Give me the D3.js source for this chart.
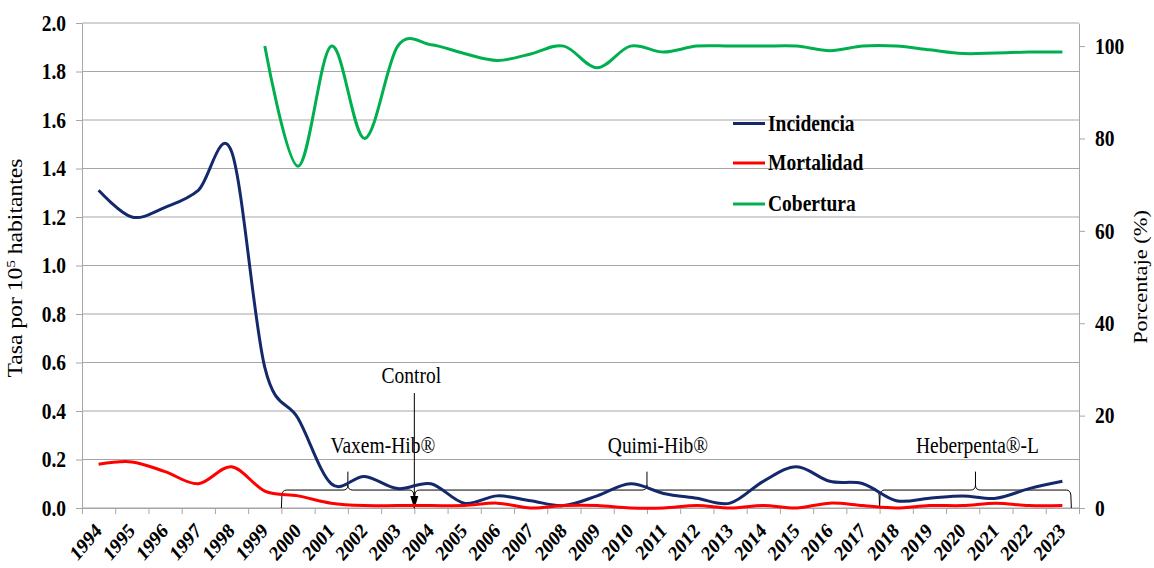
<!DOCTYPE html>
<html>
<head>
<meta charset="utf-8">
<script src="https://cdn.jsdelivr.net/npm/d3@7/dist/d3.min.js"></script>
<style>
  body { margin: 0; background: #fff; }
  svg { display: block; font-family: "Liberation Serif", "Times New Roman", serif; }
</style>
</head>
<body>
<svg id="chart"></svg>
<script>
// data
var years = ['1994','1995','1996','1997','1998','1999','2000','2001','2002','2003',
             '2004','2005','2006','2007','2008','2009','2010','2011','2012','2013',
             '2014','2015','2016','2017','2018','2019','2020','2021','2022','2023'];

var incidencia = [1.31, 1.20, 1.24, 1.31, 1.47, 0.58, 0.37, 0.10, 0.13, 0.08,
                  0.10, 0.02, 0.05, 0.03, 0.01, 0.05, 0.10, 0.06, 0.04, 0.02,
                  0.11, 0.17, 0.11, 0.10, 0.03, 0.04, 0.05, 0.04, 0.08, 0.11];

var mortalidad = [0.18, 0.19, 0.15, 0.10, 0.17, 0.07, 0.05, 0.02, 0.01, 0.01,
                  0.01, 0.01, 0.02, 0.00, 0.01, 0.01, 0.00, 0.00, 0.01, 0.00,
                  0.01, 0.00, 0.02, 0.01, 0.00, 0.01, 0.01, 0.02, 0.01, 0.01];

// coverage (%) only from 1999
var cobertura = [null, null, null, null, null, 100, 74, 100, 80, 100,
                 100.3, 98.4, 96.9, 98.3, 100, 95.3, 100, 98.7, 100, 100,
                 100, 100, 99, 100, 100, 99.2, 98.4, 98.5, 98.7, 98.7];

var leftTicks = [0, 0.2, 0.4, 0.6, 0.8, 1.0, 1.2, 1.4, 1.6, 1.8, 2.0];
var rightTicks = [0, 20, 40, 60, 80, 100];

var seriesNames = ['Incidencia', 'Mortalidad', 'Cobertura'];

// vaccine periods (start / end on the year axis)
var vacunas = ['Vaxem-Hib®', 'Quimi-Hib®', 'Heberpenta®-L'];
var vacunaInicio = [2000, 2004, 2018];
var vacunaFin = [2004, 2018, 2023.77];

var colors = {
  Incidencia: '#13296b',
  Mortalidad: '#ff0000',
  Cobertura: '#00b050'
};

var canvasWidth = 1154;
var canvasHeight = 568;
var margin = { top: 23, right: 75, bottom: 60, left: 82 };
var width = canvasWidth - margin.left - margin.right;
var height = canvasHeight - margin.top - margin.bottom;
var stretch = 'scale(1,1.18)';
var gridColor = '#a6a6a6';

var svg = d3.select('#chart')
  .attr('width', canvasWidth)
  .attr('height', canvasHeight);

var g = svg.append('g')
  .attr('transform', 'translate(' + margin.left + ',' + margin.top + ')');

var x = d3.scaleBand().domain(years).range([0, width]);
var xEdge = d3.scaleLinear().domain([1994, 2024]).range([0, width]);
var yL = d3.scaleLinear().domain([0, 2]).range([height, 0]);
var yR = d3.scaleLinear().domain([0, 105]).range([height, 0]);

// gridlines
g.selectAll('.grid')
  .data(leftTicks)
  .enter()
  .append('line')
  .attr('class', 'grid')
  .attr('x1', 0)
  .attr('x2', width)
  .attr('y1', function(d) { return yL(d); })
  .attr('y2', function(d) { return yL(d); })
  .attr('stroke', gridColor)
  .attr('stroke-width', 1);

function styleAxis(sel) {
  sel.select('.domain').attr('stroke', gridColor);
  sel.selectAll('.tick line').attr('stroke', gridColor);
  sel.selectAll('text')
    .attr('fill', '#000')
    .style('font-family', '"Liberation Serif", "Times New Roman", serif')
    .style('font-weight', 'bold');
}

// left axis
var leftAxis = g.append('g')
  .call(d3.axisLeft(yL).tickValues(leftTicks).tickFormat(d3.format('.1f'))
    .tickSize(6).tickSizeOuter(0).tickPadding(10));
styleAxis(leftAxis);
leftAxis.selectAll('text').style('font-size', '19.5px').attr('transform', stretch);

// right axis
var rightAxis = g.append('g')
  .attr('transform', 'translate(' + width + ',0)')
  .call(d3.axisRight(yR).tickValues(rightTicks)
    .tickSize(6).tickSizeOuter(0).tickPadding(10));
styleAxis(rightAxis);
rightAxis.selectAll('text').style('font-size', '19.5px').attr('transform', stretch);

// bottom axis: ticks on the category edges, labels on the centers
var edgeAxis = g.append('g')
  .attr('transform', 'translate(0,' + height + ')')
  .call(d3.axisBottom(xEdge).tickValues(d3.range(1994, 2025))
    .tickFormat('').tickSize(6).tickSizeOuter(0));
styleAxis(edgeAxis);

var bottomAxis = g.append('g')
  .attr('transform', 'translate(0,' + height + ')')
  .call(d3.axisBottom(x).tickSize(0).tickSizeOuter(0).tickPadding(0));
styleAxis(bottomAxis);
bottomAxis.selectAll('text')
  .attr('y', 0)
  .attr('dy', null)
  .style('font-size', '18px')
  .style('text-anchor', 'end')
  .attr('transform', 'translate(4,24) ' + stretch + ' rotate(-45)');

// axis titles
var leftTitle = svg.append('text')
  .attr('transform', 'translate(22,' + 268 + ') ' + stretch + ' rotate(-90)')
  .attr('text-anchor', 'middle')
  .style('font-size', '20px');
leftTitle.append('tspan').text('Tasa por 10');
leftTitle.append('tspan').attr('baseline-shift', 'super').style('font-size', '13px').text('5');
leftTitle.append('tspan').text(' habitantes');

svg.append('text')
  .attr('transform', 'translate(1147,' + 277 + ') ' + stretch + ' rotate(-90)')
  .attr('text-anchor', 'middle')
  .style('font-size', '19px')
  .text('Porcentaje (%)');

// lines
function lineFor(scale) {
  return d3.line()
    .defined(function(d) { return d != null; })
    .x(function(d, i) { return x(years[i]) + x.bandwidth() / 2; })
    .y(function(d) { return scale(d); })
    .curve(d3.curveCardinal);
}

var seriesData = [
  { name: 'Incidencia', values: incidencia, scale: yL },
  { name: 'Mortalidad', values: mortalidad, scale: yL },
  { name: 'Cobertura', values: cobertura, scale: yR }
];

// braces for the vaccine periods
var braceY = yL(0.074);
var braceTop = yL(0.15);
function llave(x0, x1) {
  var xm = (x0 + x1) / 2, r = 5, yb = braceY, y0 = height;
  return 'M' + x0 + ',' + y0 + ' L' + (x0 + 0.5) + ',' + (yb + r) +
    ' Q' + (x0 + 1) + ',' + yb + ' ' + (x0 + r) + ',' + yb +
    ' L' + (xm - r) + ',' + yb + ' Q' + xm + ',' + yb + ' ' + xm + ',' + (yb - r) +
    ' L' + xm + ',' + braceTop +
    ' M' + xm + ',' + (yb - r) + ' Q' + xm + ',' + yb + ' ' + (xm + r) + ',' + yb +
    ' L' + (x1 - r) + ',' + yb + ' Q' + (x1 - 1) + ',' + yb + ' ' + (x1 - 0.5) + ',' + (yb + r) +
    ' L' + x1 + ',' + y0;
}

var labelShift = [35, 11, 2];
vacunas.forEach(function(name, i) {
  var x0 = xEdge(vacunaInicio[i]);
  var x1 = xEdge(vacunaFin[i]);
  g.append('path')
    .attr('d', llave(x0, x1))
    .attr('fill', 'none')
    .attr('stroke', '#000')
    .attr('stroke-width', 1);
  g.append('text')
    .attr('transform', 'translate(' + ((x0 + x1) / 2 + labelShift[i]) + ',' + yL(0.226) + ') ' + stretch)
    .attr('text-anchor', 'middle')
    .style('font-size', '19.5px')
    .text(name);
});

// Control arrow
var xc = xEdge(2004);
g.append('line')
  .attr('x1', xc).attr('x2', xc)
  .attr('y1', yL(0.474)).attr('y2', height - 10)
  .attr('stroke', '#000')
  .attr('stroke-width', 1);
g.append('path')
  .attr('d', 'M' + (xc - 4) + ',' + (height - 12) + ' L' + (xc + 4) + ',' + (height - 12) + ' L' + xc + ',' + (height + 1) + ' Z')
  .attr('fill', '#000');
g.append('text')
  .attr('transform', 'translate(' + (xc - 3) + ',' + yL(0.515) + ') ' + stretch)
  .attr('text-anchor', 'middle')
  .style('font-size', '19.5px')
  .text('Control');

g.selectAll('.serie')
  .data(seriesData)
  .enter()
  .append('path')
  .attr('class', 'serie')
  .attr('d', function(d) { return lineFor(d.scale)(d.values); })
  .attr('fill', 'none')
  .attr('stroke', function(d) { return colors[d.name]; })
  .attr('stroke-width', 3);

// legend
var legendY = [100.5, 140, 181];
var legend = g.selectAll('.legend')
  .data(seriesNames)
  .enter()
  .append('g')
  .attr('class', 'legend')
  .attr('transform', function(d, i) { return 'translate(651,' + legendY[i] + ')'; });

legend.append('line')
  .attr('x1', 0).attr('x2', 32)
  .attr('stroke', function(d) { return colors[d]; })
  .attr('stroke-width', 3);

legend.append('text')
  .attr('transform', 'translate(35,7) ' + stretch)
  .style('font-size', '19.5px')
  .style('font-weight', 'bold')
  .text(function(d) { return d; });
</script>
</body>
</html>
